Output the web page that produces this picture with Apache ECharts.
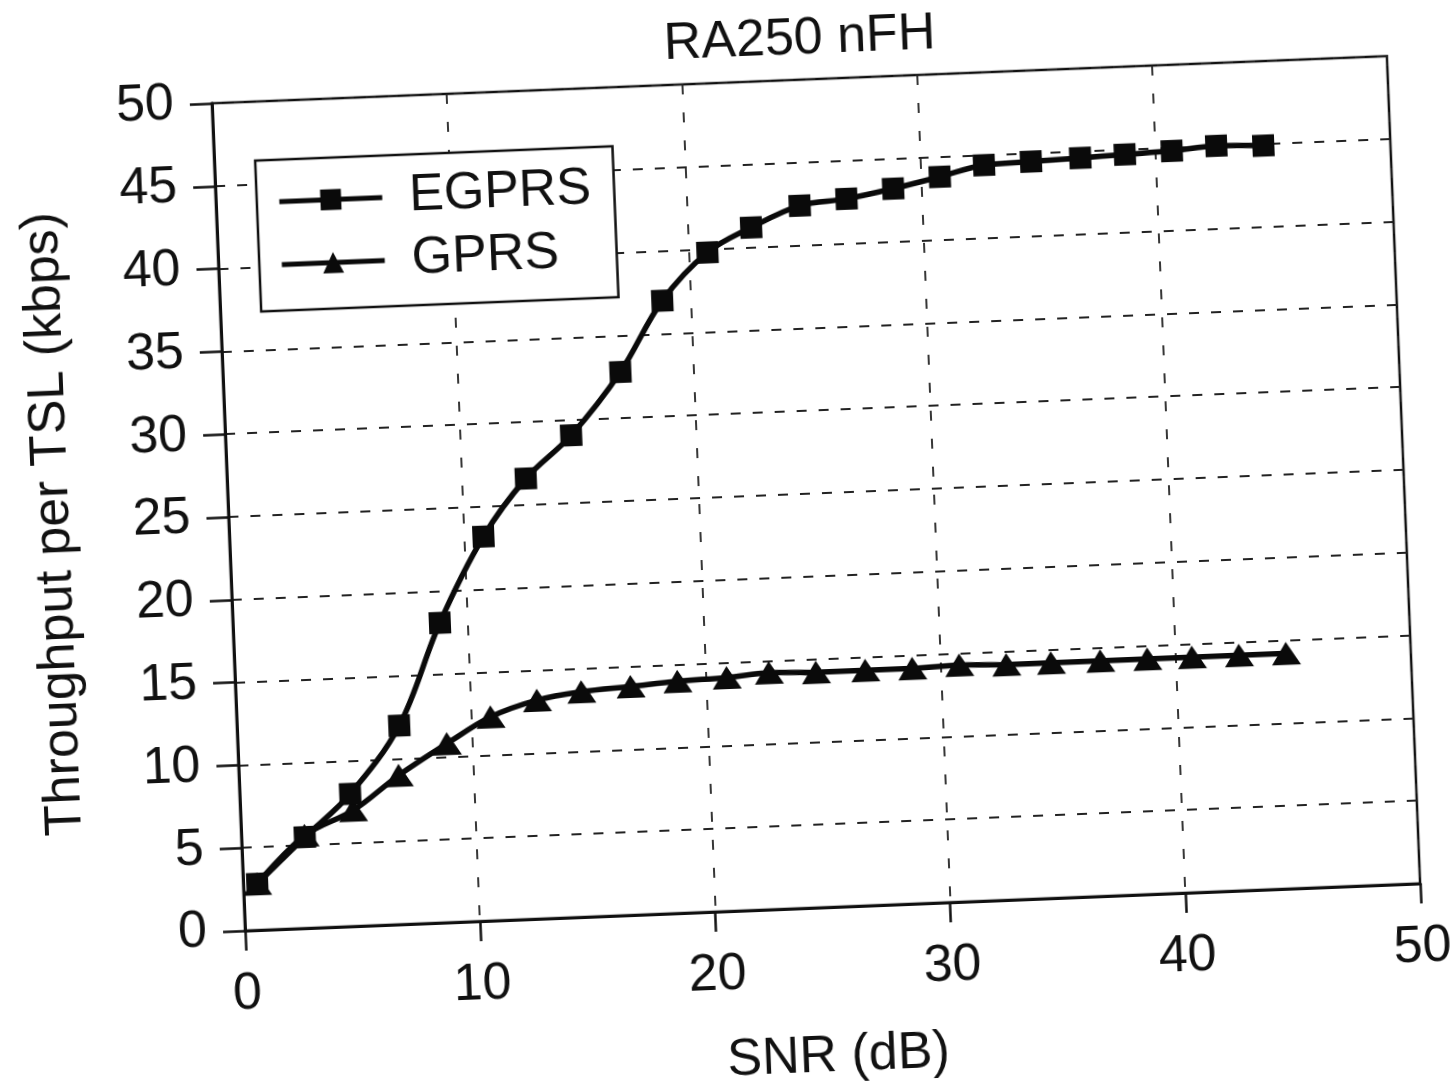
<!DOCTYPE html>
<html>
<head>
<meta charset="utf-8">
<title>RA250 nFH</title>
<script src="https://cdn.jsdelivr.net/npm/echarts@6/dist/echarts.min.js"></script>
<style>
  html, body { margin: 0; padding: 0; background: #fff; overflow: hidden; }
  /* the scanned figure sits slightly tilted, so the whole chart is turned a bit */
  #chart { position: absolute; left: 0; top: 0; width: 1454px; height: 1092px;
           transform: rotate(-2.3deg); transform-origin: 50% 50%; }
</style>
</head>
<body>
<div id="chart"></div>
<script>
// SNR (dB) of each point
var snrEgprs = [0.6, 2.7, 4.7, 6.9, 8.8, 10.8, 12.7, 14.7, 16.9, 18.8, 20.8, 22.7, 24.8, 26.8, 28.8, 30.8, 32.7, 34.7, 36.8, 38.7, 40.7, 42.6, 44.6];
var egprs    = [2.8, 5.5, 8.0, 12.0, 18.1, 23.2, 26.6, 29.1, 32.8, 37.0, 39.8, 41.2, 42.4, 42.7, 43.2, 43.8, 44.4, 44.5, 44.6, 44.7, 44.8, 45.0, 44.9];

var snrGprs = [0.6, 2.7, 4.8, 6.8, 8.9, 10.8, 12.8, 14.7, 16.8, 18.8, 20.9, 22.7, 24.7, 26.8, 28.8, 30.8, 32.8, 34.7, 36.8, 38.8, 40.7, 42.7, 44.7];
var gprs    = [2.8, 5.6, 7.0, 9.0, 10.8, 12.3, 13.2, 13.6, 13.8, 14.0, 14.1, 14.3, 14.2, 14.2, 14.2, 14.3, 14.2, 14.2, 14.2, 14.2, 14.2, 14.2, 14.2];

var seriesNames = ['EGPRS', 'GPRS'];

function pairs(xs, ys) {
    var out = [];
    for (var i = 0; i < xs.length; i++) {
        out.push([xs[i], ys[i]]);
    }
    return out;
}

var font = '"Liberation Sans", Arial, Helvetica, sans-serif';
var myChart = echarts.init(document.getElementById('chart'));

myChart.setOption({
    animation: false,
    backgroundColor: '#fff',
    title: {
        text: 'RA250 nFH',
        left: 679,
        top: 12,
        textStyle: { fontFamily: font, fontSize: 52, fontWeight: 'normal', color: '#111' }
    },
    legend: {
        data: seriesNames,
        orient: 'vertical',
        left: 271,
        top: 142,
        itemWidth: 103,
        itemHeight: 26,
        itemGap: 11,
        padding: [16, 23, 20, 20],
        backgroundColor: '#fff',
        borderColor: '#111',
        borderWidth: 2.5,
        lineStyle: { width: 5 },
        textStyle: { fontFamily: font, fontSize: 52, lineHeight: 52, color: '#111', padding: [0, 0, 0, 22] }
    },
    grid: {
        left: 230,
        top: 83,
        width: 1176,
        height: 835,
        show: true,
        borderColor: '#111',
        borderWidth: 2.5,
        backgroundColor: 'transparent'
    },
    xAxis: {
        type: 'value',
        min: 0,
        max: 50,
        interval: 10,
        name: 'SNR (dB)',
        nameLocation: 'middle',
        nameGap: 124,
        nameTextStyle: { fontFamily: font, fontSize: 52, color: '#111' },
        axisLine: { lineStyle: { color: '#111', width: 3 } },
        axisTick: { length: 20, lineStyle: { color: '#111', width: 2.5 } },
        axisLabel: { margin: 38, fontFamily: font, fontSize: 52, color: '#111' },
        splitLine: { show: true, lineStyle: { color: '#222', width: 1.8, type: [10, 18] } }
    },
    yAxis: {
        type: 'value',
        min: 0,
        max: 50,
        interval: 5,
        name: 'Throughput per TSL (kbps)',
        nameLocation: 'middle',
        nameGap: 148,
        nameTextStyle: { fontFamily: font, fontSize: 52, color: '#111' },
        axisLine: { show: true, lineStyle: { color: '#111', width: 3 } },
        axisTick: { show: true, length: 22, lineStyle: { color: '#111', width: 2.5 } },
        axisLabel: { margin: 38, fontFamily: font, fontSize: 52, color: '#111' },
        splitLine: { show: true, lineStyle: { color: '#222', width: 1.8, type: [10, 12] } }
    },
    series: [
        {
            name: 'EGPRS',
            type: 'line',
            smooth: 0.35,
            data: pairs(snrEgprs, egprs),
            symbol: 'rect',
            symbolSize: 22,
            color: '#0a0a0a',
            lineStyle: { color: '#0a0a0a', width: 5.5 },
            itemStyle: { color: '#0a0a0a' },
            z: 3
        },
        {
            name: 'GPRS',
            type: 'line',
            smooth: 0.35,
            data: pairs(snrGprs, gprs),
            symbol: 'triangle',
            symbolSize: [29, 23],
            color: '#0a0a0a',
            lineStyle: { color: '#0a0a0a', width: 5.5 },
            itemStyle: { color: '#0a0a0a' },
            z: 2
        }
    ]
});
</script>
</body>
</html>
